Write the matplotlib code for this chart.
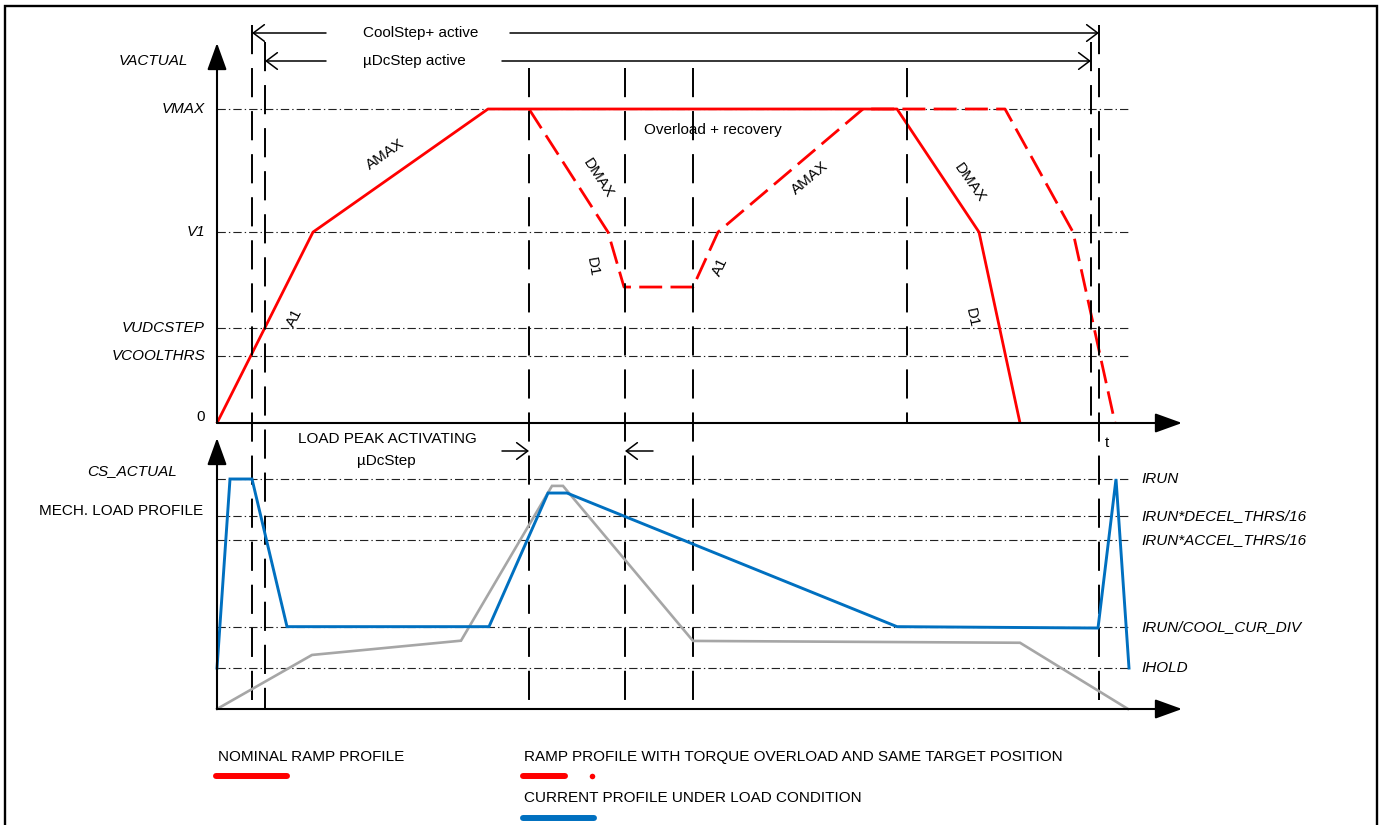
import matplotlib
matplotlib.use("Agg")
import matplotlib.pyplot as plt
from matplotlib.patches import Rectangle
from matplotlib.lines import Line2D
from matplotlib.transforms import blended_transform_factory

plt.rcParams["font.family"] = ["Liberation Sans", "DejaVu Sans"]
plt.rcParams["lines.scale_dashes"] = False

# ---------------------------------------------------------------- data
# velocity levels, normalised to VMAX
v_names = ["VMAX", "V1", "VUDCSTEP", "VCOOLTHRS"]
v_levels = [1.0, 0.608, 0.303, 0.213]

# current levels, normalised to IRUN
i_names = ["IRUN", "IRUN*DECEL_THRS/16", "IRUN*ACCEL_THRS/16",
           "IRUN/COOL_CUR_DIV", "IHOLD"]
i_levels = [1.0, 0.839, 0.735, 0.358, 0.178]

# nominal ramp (time units, velocity)
nominal_t = [0, 9.6, 27.1, 68.0, 76.2, 80.3]
nominal_v = [0, 0.608, 1.0, 1.0, 0.608, 0]

# ramp with torque overload and same target position
overload_t = [31.2, 39.1, 40.7, 47.6, 50.1, 64.6, 78.8, 85.6, 89.8]
overload_v = [1.0, 0.608, 0.433, 0.433, 0.608, 1.0, 1.0, 0.608, 0]

# motor current under load
current_t = [0, 1.3, 3.5, 7.0, 27.2, 33.1, 35.0, 68.0, 88.1, 89.9, 91.2]
current_i = [0.178, 1.0, 1.0, 0.358, 0.358, 0.939, 0.939, 0.358, 0.352, 1.0, 0.178]

# mechanical load profile
load_t = [0, 9.5, 24.4, 33.5, 34.6, 47.6, 80.3, 91.1]
load_i = [0, 0.235, 0.297, 0.970, 0.970, 0.296, 0.288, 0]

# event markers: CoolStep on, uDcStep on, load peak, overload steps, off
event_t = [3.5, 4.8, 31.2, 40.8, 47.6, 69.0, 87.4, 88.2]

# slope labels on the ramps: text, time, velocity, angle
slope_labels = [
    ("A1", 7.8, 0.334, 63), ("AMAX", 16.8, 0.854, 35),
    ("DMAX", 38.1, 0.780, -57), ("D1", 37.5, 0.497, -80),
    ("A1", 50.3, 0.497, 65), ("AMAX", 59.3, 0.780, 40),
    ("DMAX", 75.3, 0.764, -55), ("D1", 75.5, 0.334, -78),
]

# --------------------------------------------------------------- layout
W, H, DPI = 1383, 825, 100
X0, PX_T = 217, 10.0          # origin column, pixels per time unit
TOP_ZERO, V_SCALE = 423, 314.0
BOT_ZERO, I_SCALE = 709, 230.0
T_MAX = 96.5
LEVEL_END = 91.1

RED, BLUE, GREY = "#ff0000", "#0070c0", "#a6a6a6"
FS = 11.0

fig = plt.figure(figsize=(W / DPI, H / DPI), dpi=DPI)
fig.patch.set_facecolor("white")

xlim = (-X0 / PX_T, (W - X0) / PX_T)
ax_v = fig.add_axes([0, (H - TOP_ZERO) / H, 1, TOP_ZERO / H])
ax_v.set_xlim(*xlim)
ax_v.set_ylim(0, TOP_ZERO / V_SCALE)
ax_i = fig.add_axes([0, 0, 1, (H - TOP_ZERO) / H])
ax_i.set_xlim(*xlim)
ax_i.set_ylim((BOT_ZERO - H) / I_SCALE, (BOT_ZERO - TOP_ZERO) / I_SCALE)
for ax in (ax_v, ax_i):
    ax.axis("off")
    ax.patch.set_alpha(0)

# outer frame
fig.add_artist(Rectangle((5 / W, -0.05), (1377 - 5) / W, 1 - 6 / H + 0.05,
                         transform=fig.transFigure, fill=False, lw=1.7,
                         ec="black", zorder=10))

dashdot = (0, (6, 2.2, 1, 2.2))

# reference levels
for lvl in v_levels:
    ax_v.plot([0, LEVEL_END], [lvl, lvl], color="#222222", lw=0.8,
              linestyle=dashdot, zorder=1)
for lvl in i_levels:
    ax_i.plot([0, LEVEL_END], [lvl, lvl], color="#222222", lw=0.8,
              linestyle=dashdot, zorder=1)

# event markers spanning both panels (y in figure pixels)
event_span = [(25, 709), (42, 709), (68, 709), (68, 709), (68, 709),
              (68, 423), (42, 423), (25, 709)]
trans_ev = blended_transform_factory(ax_i.transData, fig.transFigure)
for t, (y_top, y_bot) in zip(event_t, event_span):
    ax_i.add_line(Line2D([t, t], [1 - y_top / H, 1 - y_bot / H],
                         transform=trans_ev, color="black", lw=1.4,
                         linestyle=(0, (21, 10)), clip_on=False, zorder=2))

# axes with filled arrow heads
ax_arrow = dict(arrowstyle="-|>,head_length=0.83,head_width=0.3",
                mutation_scale=20, lw=1.5, color="black",
                shrinkA=0, shrinkB=0)
ax_v.annotate("", xy=(0, (TOP_ZERO - 43) / V_SCALE), xytext=(0, 0),
              arrowprops=ax_arrow, zorder=5)
ax_v.annotate("", xy=(T_MAX, 0), xytext=(0, 0), arrowprops=ax_arrow, zorder=5)
ax_i.annotate("", xy=(0, (BOT_ZERO - 438) / I_SCALE), xytext=(0, 0),
              arrowprops=ax_arrow, zorder=5)
ax_i.annotate("", xy=(T_MAX, 0), xytext=(0, 0), arrowprops=ax_arrow, zorder=5)

# curves
ax_i.plot(load_t, load_i, color=GREY, lw=1.9, zorder=3,
          solid_joinstyle="miter")
ax_i.plot(current_t, current_i, color=BLUE, lw=2.1, zorder=4,
          solid_joinstyle="miter")
ax_v.plot(overload_t, overload_v, color=RED, lw=2.0,
          linestyle=(0, (16.5, 6)), zorder=4)
ax_v.plot(nominal_t, nominal_v, color=RED, lw=2.0, zorder=4)

# ramp slope labels
for txt, t, v, rot in slope_labels:
    ax_v.text(t, v, txt, rotation=rot, rotation_mode="anchor",
              ha="center", va="center", fontsize=FS)
ax_v.text(49.6, 0.933, "Overload + recovery", ha="center", va="center",
          fontsize=FS)

# level labels
ax_v.text(-2.9, 1.153, "VACTUAL", ha="right", va="center", fontsize=FS,
          style="italic")
for name, lvl in zip(v_names, v_levels):
    ax_v.text(-1.2, lvl, name, ha="right", va="center", fontsize=FS,
              style="italic")
ax_v.text(-1.2, 0.02, "0", ha="right", va="center", fontsize=FS)

ax_i.text(-4.0, 1.035, "CS_ACTUAL", ha="right", va="center", fontsize=FS,
          style="italic")
ax_i.text(-1.4, 0.861, "MECH. LOAD PROFILE", ha="right", va="center",
          fontsize=FS)
for name, lvl in zip(i_names, i_levels):
    ax_i.text(92.4, lvl, name, ha="left", va="center", fontsize=FS,
              style="italic")
ax_i.text(88.8, 1.157, "t", ha="left", va="center", fontsize=FS)

# activity ranges
open_arrow = dict(arrowstyle="->,head_length=0.4,head_width=0.3",
                  mutation_scale=20, lw=1.1, color="black",
                  shrinkA=0, shrinkB=0)
y_cool = (TOP_ZERO - 33) / V_SCALE
y_udc = (TOP_ZERO - 61) / V_SCALE
ax_v.annotate("", xy=(event_t[0], y_cool), xytext=(10.9, y_cool),
              arrowprops=open_arrow, annotation_clip=False)
ax_v.annotate("", xy=(event_t[7], y_cool), xytext=(29.3, y_cool),
              arrowprops=open_arrow, annotation_clip=False)
ax_v.annotate("", xy=(event_t[1], y_udc), xytext=(10.9, y_udc),
              arrowprops=open_arrow, annotation_clip=False)
ax_v.annotate("", xy=(event_t[6], y_udc), xytext=(28.5, y_udc),
              arrowprops=open_arrow, annotation_clip=False)
ax_v.text(14.6, y_cool, "CoolStep+ active", ha="left", va="center",
          fontsize=FS)
ax_v.text(14.6, y_udc, "\u00b5DcStep active", ha="left", va="center",
          fontsize=FS)

# load peak window
y_peak = (BOT_ZERO - 451) / I_SCALE
ax_i.annotate("", xy=(event_t[2], y_peak), xytext=(28.5, y_peak),
              arrowprops=open_arrow)
ax_i.annotate("", xy=(event_t[3], y_peak), xytext=(43.6, y_peak),
              arrowprops=open_arrow)
ax_i.text(17.0, 1.174, "LOAD PEAK ACTIVATING", ha="center", va="center",
          fontsize=FS)
ax_i.text(16.9, 1.078, "\u00b5DcStep", ha="center", va="center", fontsize=FS)

# legend
ax_i.text(0.1, -0.209, "NOMINAL RAMP PROFILE", ha="left", va="center",
          fontsize=FS)
ax_i.plot([-0.1, 7.0], [-0.291, -0.291], color=RED, lw=4.3,
          solid_capstyle="round", clip_on=False)
ax_i.text(30.7, -0.209, "RAMP PROFILE WITH TORQUE OVERLOAD AND SAME TARGET POSITION",
          ha="left", va="center", fontsize=FS)
ax_i.plot([30.6, 34.8], [-0.291, -0.291], color=RED, lw=4.3,
          solid_capstyle="round", clip_on=False)
ax_i.plot([37.5], [-0.291], marker="o", ms=4.0, color=RED, mew=0,
          clip_on=False)
ax_i.text(30.7, -0.387, "CURRENT PROFILE UNDER LOAD CONDITION", ha="left",
          va="center", fontsize=FS)
ax_i.plot([30.6, 37.7], [-0.474, -0.474], color=BLUE, lw=4.3,
          solid_capstyle="round", clip_on=False)

fig.savefig("out.png", dpi=DPI)
